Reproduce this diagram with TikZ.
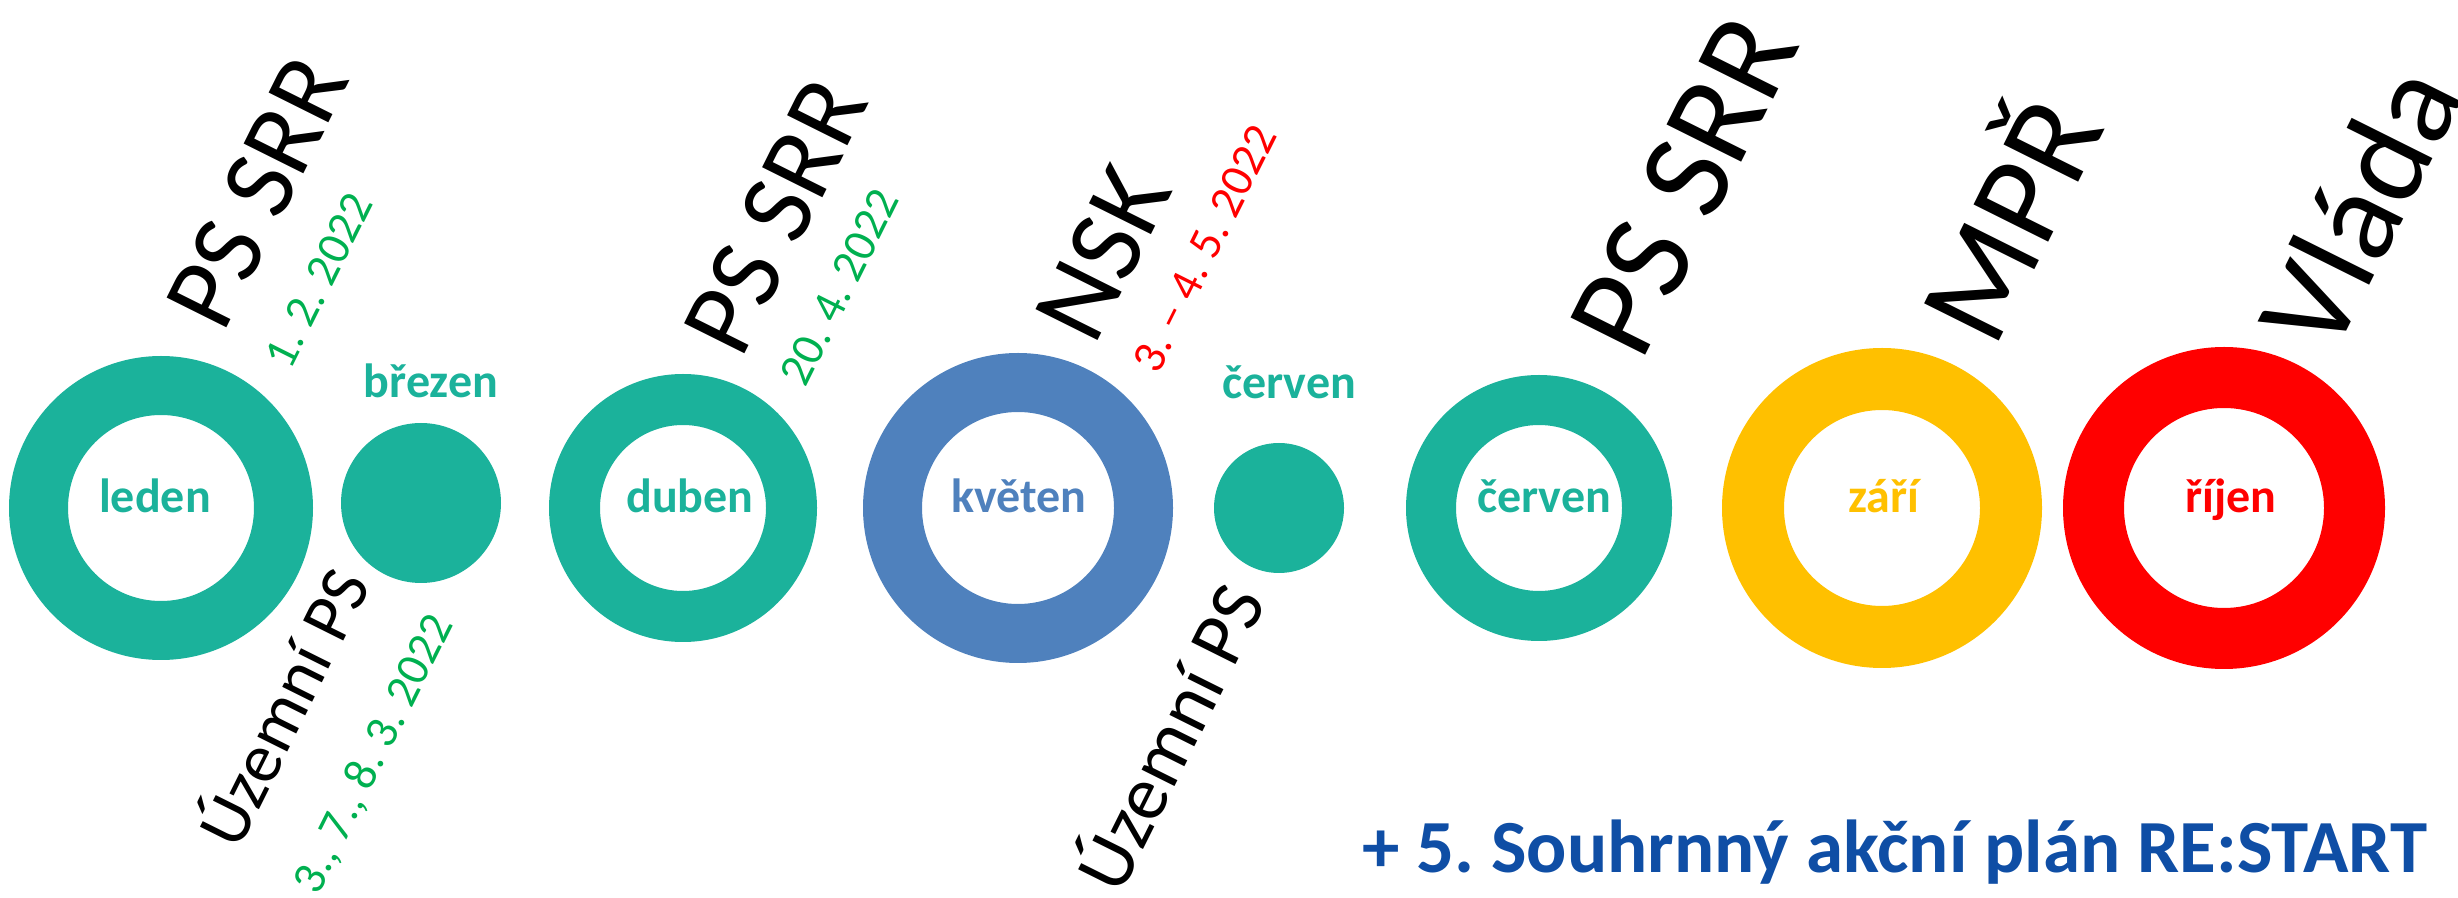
\documentclass[tikz,border=0pt]{standalone}
\usepackage{fontspec}
\setmainfont{Carlito}
\frenchspacing
\definecolor{cTeal}{HTML}{1BB29B}
\definecolor{cBlue}{HTML}{4F81BD}
\definecolor{cYellow}{HTML}{FFC000}
\definecolor{cRed}{HTML}{FF0000}
\definecolor{cGreen}{HTML}{00B050}
\definecolor{cNavy}{HTML}{0F4EA5}
\tikzset{
  lbl/.style={inner sep=0pt, anchor=base, font=\bfseries\fontsize{48}{50}\selectfont},
  rtxt/.style={inner sep=0pt, anchor=base, rotate=63.5, font=\fontsize{#1}{#1}\selectfont},
  ring/.style={even odd rule}
}
\begin{document}
\begin{tikzpicture}[x=1pt,y=1pt]
\useasboundingbox (0,0) rectangle (2458,897);
% centres
\coordinate (c1) at (161,389);
\coordinate (c2) at (421,394);
\coordinate (c3) at (683,389);
\coordinate (c4) at (1018,389);
\coordinate (c5) at (1279,389);
\coordinate (c6) at (1539,389);
\coordinate (c7) at (1882,389);
\coordinate (c8) at (2224,389);
% rings and dots
\fill[cTeal, ring] (c1) circle[radius=152] (c1) circle[radius=93];
\fill[cTeal] (c2) circle[radius=80];
\fill[cTeal, ring] (c3) circle[radius=134] (c3) circle[radius=83];
\fill[cBlue, ring] (c4) circle[radius=155] (c4) circle[radius=96];
\fill[cTeal] (c5) circle[radius=65];
\fill[cTeal, ring] (c6) circle[radius=133] (c6) circle[radius=83];
\fill[cYellow, ring] (c7) circle[radius=160] (c7) circle[radius=98];
\fill[cRed, ring] (c8) circle[radius=161] (c8) circle[radius=100];
% month labels
\node[lbl, text=cTeal] (m1) at (155,384) {leden};
\node[lbl, text=cTeal] (m2) at (431,499) {březen};
\node[lbl, text=cTeal] (m3) at (690,384) {duben};
\node[lbl, text=cBlue] (m4) at (1019,384) {květen};
\node[lbl, text=cTeal] (m5) at (1289,498) {červen};
\node[lbl, text=cTeal] (m6) at (1544,384) {červen};
\node[lbl, text=cYellow] (m7) at (1884,384) {září};
\node[lbl, text=cRed] (m8) at (2231,384) {říjen};
% rotated titles
\node[rtxt=104] (t1) at (287,690) {PS SRR};
\node[rtxt=47, text=cGreen] (d1) at (332,610) {1. 2. 2022};
\node[rtxt=70] (t2) at (305,179) {Územní PS};
\node[rtxt=47, text=cGreen] (d2) at (386,137) {3., 7., 8. 3. 2022};
\node[rtxt=105] (t3) at (806,666) {PS SRR};
\node[rtxt=47, text=cGreen] (d3) at (853,603) {20. 4. 2022};
\node[rtxt=108] (t4) at (1134,628) {NSK};
\node[rtxt=47, text=cRed] (d4) at (1218,642) {3. – 4. 5. 2022};
\node[rtxt=77] (t5) at (1194,148) {Územní PS};
\node[rtxt=130] (t6) at (1721,693) {PS SRR};
\node[rtxt=130] (t7) at (2050,658) {MPŘ};
\node[rtxt=130] (t8) at (2399,670) {Vláda};
% bottom note
\node[inner sep=0pt, anchor=base east, text=cNavy, font=\bfseries\fontsize{75}{80}\selectfont] (note) at (2427,24) {+ 5. Souhrnný akční plán RE:START};
\end{tikzpicture}
\end{document}
